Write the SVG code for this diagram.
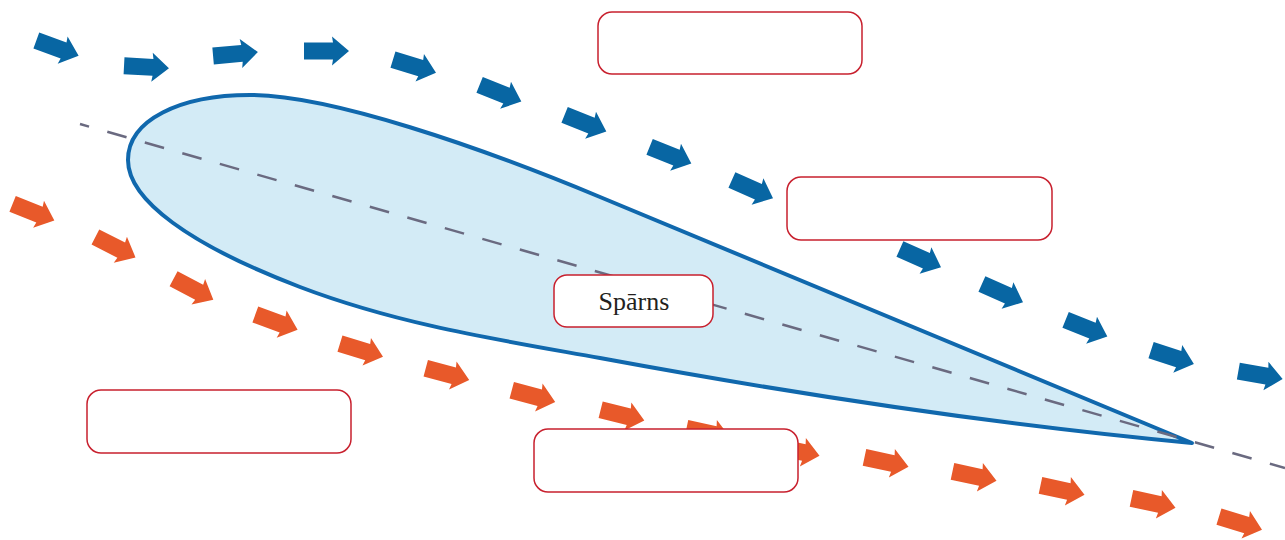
<svg xmlns="http://www.w3.org/2000/svg" xmlns:xlink="http://www.w3.org/1999/xlink" width="1285" height="540" viewBox="0 0 1285 540">
<style>
.box{fill:#ffffff;stroke:#c8202e;stroke-width:1.5}
.blue{fill:#0866a3}
.orange{fill:#e8592a}
.lbl{font-family:"Liberation Serif","Times New Roman",serif;font-size:26px;fill:#231f20;text-anchor:middle}
</style>
<defs>
<path id="arr" d="M-22,-8.5 L7,-8.5 L6,-14.5 L23,0 L6,14.5 L7,8.5 L-22,8.5 Z"/>
</defs>
<rect width="1285" height="540" fill="#ffffff"/>
<g id="wing">
<path d="M1192,443 L600,197 C480,147 330,95 250,95 C180,95 128,120 128,160 C128,200 190,245 300,287 C400,325 500,340 600,358 C800,395 1000,425 1192,443 Z" fill="#d3ebf6" stroke="#1068ad" stroke-width="4" stroke-linejoin="round"/>
</g>
<g id="chord">
<line x1="80" y1="124" x2="1285" y2="468" stroke="#6a6a80" stroke-width="2.5" stroke-dasharray="20 19" stroke-dashoffset="10.6"/>
</g>
<g id="flow-upper" class="blue">
<use href="#arr" transform="translate(57,48) rotate(20)"/>
<use href="#arr" transform="translate(146,67) rotate(3)"/>
<use href="#arr" transform="translate(235,54) rotate(-5)"/>
<use href="#arr" transform="translate(326,51) rotate(0)"/>
<use href="#arr" transform="translate(414,66) rotate(17)"/>
<use href="#arr" transform="translate(500,93) rotate(22)"/>
<use href="#arr" transform="translate(585,123) rotate(22)"/>
<use href="#arr" transform="translate(670,155) rotate(22)"/>
<use href="#arr" transform="translate(752,189) rotate(24)"/>
<use href="#arr" transform="translate(920,258) rotate(24)"/>
<use href="#arr" transform="translate(1002,293) rotate(24)"/>
<use href="#arr" transform="translate(1086,328) rotate(22)"/>
<use href="#arr" transform="translate(1172,357) rotate(18)"/>
<use href="#arr" transform="translate(1260,375) rotate(10)"/>
</g>
<g id="flow-lower" class="orange">
<use href="#arr" transform="translate(33,212) rotate(22)"/>
<use href="#arr" transform="translate(115,247) rotate(27)"/>
<use href="#arr" transform="translate(193,289) rotate(28)"/>
<use href="#arr" transform="translate(276,322) rotate(20)"/>
<use href="#arr" transform="translate(361,350) rotate(17)"/>
<use href="#arr" transform="translate(447,374) rotate(15)"/>
<use href="#arr" transform="translate(533,396) rotate(15)"/>
<use href="#arr" transform="translate(622,415) rotate(14)"/>
<use href="#arr" transform="translate(708,433) rotate(12)"/>
<use href="#arr" transform="translate(797,451) rotate(12)"/>
<use href="#arr" transform="translate(886,462) rotate(12)"/>
<use href="#arr" transform="translate(974,476) rotate(12)"/>
<use href="#arr" transform="translate(1062,490) rotate(12)"/>
<use href="#arr" transform="translate(1153,503) rotate(12)"/>
<use href="#arr" transform="translate(1240,523) rotate(17)"/>
</g>
<g id="box-top"><rect class="box" x="598" y="12" width="264" height="62" rx="14"/></g>
<g id="box-upper-right"><rect class="box" x="787" y="177" width="265" height="63" rx="14"/></g>
<g id="box-sparns"><rect class="box" x="554" y="275" width="159" height="52" rx="13"/><text class="lbl" x="634" y="310">Spārns</text></g>
<g id="box-left"><rect class="box" x="87" y="390" width="264" height="63" rx="14"/></g>
<g id="box-bottom"><rect class="box" x="534" y="429" width="264" height="63" rx="14"/></g>
</svg>
